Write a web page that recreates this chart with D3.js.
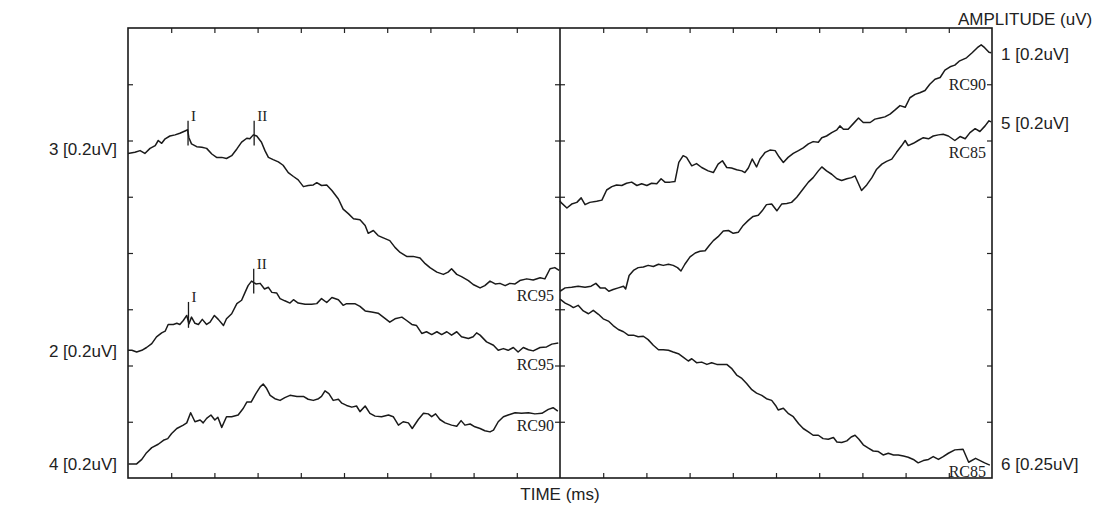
<!DOCTYPE html>
<html>
<head>
<meta charset="utf-8">
<script src="https://cdn.jsdelivr.net/npm/d3@7"></script>
<style>
  body { margin: 0; background: #fff; }
  svg { display: block; }
  .lab { font-family: "Liberation Sans", Arial, sans-serif; font-size: 17px; fill: #222; }
  .ser { font-family: "Liberation Serif", "Times New Roman", serif; font-size: 16px; fill: #222; }
</style>
</head>
<body>
<script>
// traces: [time (tick units, 0-10 per panel), amplitude (grid units, 0-8)]
const trace3 = [[0,5.77],[0.16,5.79],[0.28,5.82],[0.39,5.77],[0.51,5.86],[0.63,5.91],[0.70,6.00],[0.78,5.95],[0.86,6.03],[0.97,6.08],[1.09,6.10],[1.20,6.13],[1.32,6.17],[1.38,6.19],[1.41,6.05],[1.47,5.94],[1.59,5.89],[1.71,5.88],[1.82,5.86],[1.94,5.76],[2.05,5.70],[2.17,5.70],[2.28,5.68],[2.40,5.73],[2.52,5.85],[2.63,5.97],[2.75,6.04],[2.82,6.03],[2.90,6.10],[2.98,6.08],[3.09,5.97],[3.17,5.82],[3.25,5.70],[3.36,5.66],[3.48,5.62],[3.59,5.56],[3.71,5.43],[3.83,5.36],[3.94,5.30],[4.06,5.18],[4.17,5.20],[4.29,5.21],[4.37,5.25],[4.48,5.20],[4.60,5.21],[4.72,5.11],[4.87,4.96],[4.98,4.78],[5.10,4.70],[5.22,4.61],[5.37,4.59],[5.49,4.49],[5.56,4.35],[5.68,4.40],[5.79,4.31],[5.91,4.27],[6.06,4.22],[6.18,4.10],[6.30,4.01],[6.45,3.94],[6.60,3.94],[6.76,3.91],[6.88,3.81],[6.99,3.74],[7.15,3.66],[7.30,3.62],[7.41,3.66],[7.49,3.72],[7.61,3.62],[7.72,3.58],[7.88,3.51],[7.99,3.44],[8.15,3.38],[8.26,3.42],[8.38,3.50],[8.50,3.45],[8.61,3.46],[8.73,3.42],[8.84,3.46],[8.96,3.45],[9.07,3.51],[9.23,3.54],[9.38,3.52],[9.54,3.56],[9.65,3.54],[9.77,3.72],[9.88,3.74],[9.98,3.69]];
const trace2 = [[0,2.27],[0.09,2.27],[0.20,2.24],[0.32,2.27],[0.43,2.32],[0.55,2.39],[0.66,2.51],[0.78,2.58],[0.86,2.61],[0.93,2.73],[1.05,2.73],[1.13,2.75],[1.20,2.73],[1.28,2.80],[1.36,2.89],[1.41,2.74],[1.47,2.86],[1.55,2.75],[1.63,2.73],[1.72,2.82],[1.82,2.73],[1.90,2.77],[2.00,2.89],[2.09,2.82],[2.21,2.71],[2.28,2.83],[2.40,2.92],[2.52,3.10],[2.63,3.16],[2.71,3.30],[2.78,3.42],[2.86,3.50],[2.96,3.45],[3.06,3.46],[3.16,3.36],[3.25,3.39],[3.33,3.30],[3.44,3.29],[3.52,3.19],[3.63,3.15],[3.75,3.11],[3.83,3.17],[3.94,3.11],[4.10,3.09],[4.25,3.09],[4.37,3.10],[4.48,3.19],[4.60,3.12],[4.72,3.21],[4.87,3.17],[4.98,3.07],[5.06,3.10],[5.25,3.10],[5.37,3.05],[5.49,2.97],[5.64,2.95],[5.79,2.93],[5.91,2.86],[6.06,2.77],[6.18,2.83],[6.34,2.86],[6.45,2.80],[6.57,2.73],[6.68,2.71],[6.80,2.57],[6.91,2.60],[7.03,2.55],[7.15,2.60],[7.26,2.55],[7.38,2.60],[7.49,2.54],[7.61,2.60],[7.72,2.51],[7.88,2.48],[7.99,2.51],[8.07,2.58],[8.15,2.54],[8.30,2.42],[8.46,2.36],[8.57,2.27],[8.69,2.30],[8.80,2.27],[8.92,2.32],[9.03,2.24],[9.15,2.32],[9.27,2.28],[9.38,2.26],[9.54,2.32],[9.69,2.33],[9.81,2.38],[9.96,2.40]];
const trace4 = [[0.01,0.25],[0.20,0.25],[0.32,0.33],[0.43,0.45],[0.55,0.54],[0.70,0.60],[0.82,0.67],[0.92,0.70],[1.01,0.79],[1.13,0.88],[1.28,0.94],[1.36,0.98],[1.45,1.16],[1.55,1.00],[1.67,1.03],[1.74,0.98],[1.82,1.06],[1.92,1.12],[2.01,1.03],[2.08,1.08],[2.17,0.90],[2.28,1.09],[2.40,1.09],[2.55,1.12],[2.67,1.24],[2.75,1.35],[2.85,1.35],[2.96,1.50],[3.06,1.62],[3.13,1.67],[3.21,1.59],[3.29,1.47],[3.40,1.41],[3.52,1.38],[3.63,1.43],[3.75,1.47],[3.91,1.45],[4.06,1.45],[4.17,1.40],[4.29,1.38],[4.41,1.41],[4.48,1.45],[4.56,1.55],[4.65,1.50],[4.75,1.38],[4.87,1.40],[4.95,1.33],[5.06,1.29],[5.18,1.26],[5.29,1.28],[5.37,1.18],[5.49,1.28],[5.60,1.15],[5.72,1.10],[5.87,1.09],[6.03,1.12],[6.14,1.09],[6.26,0.94],[6.37,1.00],[6.49,0.98],[6.58,0.88],[6.72,1.04],[6.84,1.15],[6.95,1.14],[7.03,1.09],[7.12,1.14],[7.22,1.04],[7.34,0.98],[7.49,0.94],[7.61,0.92],[7.71,1.02],[7.80,0.94],[7.92,0.96],[8.03,0.91],[8.15,0.88],[8.26,0.84],[8.38,0.82],[8.46,0.85],[8.57,1.00],[8.69,1.09],[8.80,1.12],[8.96,1.16],[9.11,1.15],[9.27,1.16],[9.42,1.14],[9.58,1.15],[9.73,1.22],[9.84,1.25],[9.95,1.19]];
const trace1 = [[0,4.93],[0.02,4.90],[0.16,4.80],[0.27,4.87],[0.39,4.90],[0.49,4.98],[0.58,4.86],[0.69,4.90],[0.85,4.92],[0.97,4.94],[1.08,5.12],[1.20,5.18],[1.31,5.21],[1.43,5.20],[1.54,5.24],[1.66,5.26],[1.78,5.20],[1.89,5.23],[2.01,5.20],[2.12,5.24],[2.24,5.23],[2.34,5.32],[2.43,5.26],[2.55,5.26],[2.66,5.27],[2.75,5.61],[2.85,5.73],[2.93,5.70],[3.05,5.55],[3.16,5.59],[3.28,5.52],[3.43,5.46],[3.55,5.43],[3.66,5.58],[3.76,5.64],[3.86,5.52],[3.97,5.51],[4.09,5.48],[4.21,5.46],[4.28,5.43],[4.36,5.51],[4.45,5.67],[4.55,5.53],[4.63,5.67],[4.75,5.79],[4.86,5.83],[4.98,5.82],[5.07,5.71],[5.17,5.61],[5.28,5.70],[5.40,5.77],[5.52,5.82],[5.63,5.87],[5.75,5.94],[5.86,5.98],[5.98,5.97],[6.06,6.05],[6.17,6.08],[6.29,6.14],[6.41,6.19],[6.48,6.26],[6.56,6.20],[6.67,6.20],[6.79,6.30],[6.91,6.40],[7.02,6.32],[7.18,6.32],[7.29,6.38],[7.41,6.40],[7.52,6.42],[7.64,6.47],[7.75,6.54],[7.87,6.62],[7.99,6.59],[8.10,6.76],[8.22,6.82],[8.33,6.85],[8.45,6.89],[8.56,7.00],[8.68,7.09],[8.80,7.12],[8.91,7.25],[9.03,7.31],[9.14,7.34],[9.24,7.41],[9.41,7.47],[9.54,7.56],[9.66,7.65],[9.75,7.70],[9.83,7.65],[9.93,7.57],[9.98,7.56]];
const trace5 = [[0,3.32],[0.12,3.38],[0.27,3.39],[0.42,3.41],[0.58,3.39],[0.72,3.41],[0.83,3.46],[0.93,3.38],[1.04,3.38],[1.13,3.32],[1.23,3.35],[1.35,3.38],[1.47,3.41],[1.52,3.36],[1.60,3.60],[1.70,3.69],[1.81,3.74],[1.93,3.75],[2.04,3.78],[2.16,3.76],[2.28,3.80],[2.39,3.78],[2.51,3.80],[2.62,3.78],[2.72,3.74],[2.80,3.68],[2.89,3.80],[3.01,3.93],[3.13,4.00],[3.24,4.03],[3.36,4.04],[3.45,4.13],[3.55,4.22],[3.66,4.29],[3.78,4.39],[3.90,4.40],[4.01,4.35],[4.13,4.37],[4.24,4.49],[4.36,4.58],[4.47,4.65],[4.59,4.67],[4.68,4.75],[4.78,4.86],[4.90,4.87],[5.02,4.75],[5.13,4.87],[5.25,4.88],[5.36,4.90],[5.48,4.99],[5.60,5.11],[5.75,5.26],[5.86,5.34],[5.98,5.46],[6.06,5.53],[6.17,5.46],[6.29,5.40],[6.41,5.32],[6.52,5.29],[6.64,5.32],[6.75,5.34],[6.83,5.37],[6.91,5.23],[6.98,5.11],[7.10,5.21],[7.22,5.34],[7.33,5.49],[7.45,5.58],[7.56,5.63],[7.68,5.67],[7.79,5.79],[7.91,5.91],[7.99,6.00],[8.06,5.91],[8.18,5.95],[8.29,6.00],[8.41,6.05],[8.53,6.03],[8.64,6.08],[8.76,6.10],[8.87,6.11],[8.99,6.08],[9.14,6.00],[9.26,6.07],[9.38,6.03],[9.49,6.14],[9.61,6.21],[9.72,6.16],[9.84,6.26],[9.93,6.35],[9.98,6.33]];
const trace6 = [[0,3.18],[0.12,3.11],[0.23,3.07],[0.31,3.03],[0.42,3.07],[0.54,2.97],[0.66,2.92],[0.77,2.98],[0.89,2.91],[1.00,2.83],[1.12,2.79],[1.23,2.71],[1.35,2.64],[1.47,2.60],[1.58,2.54],[1.70,2.54],[1.81,2.51],[1.93,2.52],[2.04,2.46],[2.16,2.36],[2.28,2.28],[2.39,2.28],[2.51,2.27],[2.62,2.24],[2.74,2.21],[2.85,2.15],[2.97,2.08],[3.05,2.12],[3.16,2.05],[3.28,2.06],[3.40,2.02],[3.51,2.05],[3.63,2.02],[3.74,2.02],[3.86,2.02],[3.97,1.95],[4.09,1.83],[4.21,1.77],[4.32,1.68],[4.44,1.57],[4.55,1.51],[4.67,1.47],[4.78,1.41],[4.90,1.38],[4.99,1.29],[5.05,1.21],[5.17,1.24],[5.28,1.15],[5.40,1.09],[5.52,0.97],[5.63,0.88],[5.75,0.82],[5.86,0.76],[5.98,0.76],[6.09,0.70],[6.21,0.69],[6.33,0.72],[6.41,0.64],[6.52,0.63],[6.64,0.66],[6.74,0.73],[6.83,0.76],[6.92,0.69],[7.02,0.59],[7.14,0.53],[7.25,0.48],[7.37,0.47],[7.48,0.41],[7.60,0.44],[7.72,0.41],[7.83,0.41],[7.95,0.39],[8.06,0.37],[8.18,0.33],[8.29,0.27],[8.41,0.31],[8.53,0.33],[8.64,0.38],[8.76,0.33],[8.87,0.38],[8.99,0.44],[9.14,0.50],[9.33,0.51],[9.46,0.28],[9.62,0.35],[9.83,0.27],[9.95,0.23]];

const channelNames = ["3 [0.2uV]", "2 [0.2uV]", "4 [0.2uV]", "1 [0.2uV]", "5 [0.2uV]", "6 [0.25uV]"];
const seriesNames = ["RC95", "RC95", "RC90", "RC90", "RC85", "RC85"];
// wave markers: trace index, label, time, top and bottom of the mark (amplitude units)
const waveMarks = [
  [0, "I", 1.39, 6.35, 5.91], [0, "II", 2.92, 6.35, 5.91],
  [1, "I", 1.40, 3.13, 2.67], [1, "II", 2.91, 3.72, 3.28]
];
const timeTicks = [1, 2, 3, 4, 5, 6, 7, 8, 9];
const ampTicks = [1, 2, 3, 4, 5, 6, 7];

const W = 1117, H = 507;
const box = { left: 128, mid: 560, right: 992, top: 28, bottom: 478 };

const svg = d3.select("body").append("svg").attr("width", W).attr("height", H);

const xL = d3.scaleLinear().domain([0, 10]).range([box.left, box.mid]);
const xR = d3.scaleLinear().domain([0, 10]).range([box.mid, box.right]);
const y = d3.scaleLinear().domain([0, 8]).range([box.bottom, box.top]);

// ticks (no labels)
function ticks(axis, tx, ty) {
  svg.append("g")
    .attr("transform", "translate(" + tx + "," + ty + ")")
    .call(axis.tickFormat("").tickSizeOuter(0))
    .call(g => g.select(".domain").remove())
    .call(g => g.selectAll("line").attr("stroke", "#222").attr("stroke-width", 1.2));
}
[xL, xR].forEach(x => {
  ticks(d3.axisTop(x).tickValues(timeTicks).tickSize(-5), 0, box.top);
  ticks(d3.axisBottom(x).tickValues(timeTicks).tickSize(-5), 0, box.bottom);
});
ticks(d3.axisLeft(y).tickValues(ampTicks).tickSize(-5), box.left, 0);
ticks(d3.axisRight(y).tickValues(ampTicks).tickSize(-5), box.right, 0);
ticks(d3.axisLeft(y).tickValues(ampTicks).tickSize(5), box.mid, 0);
ticks(d3.axisRight(y).tickValues(ampTicks).tickSize(5), box.mid, 0);

// frame and divider
svg.append("rect")
  .attr("x", box.left).attr("y", box.top)
  .attr("width", box.right - box.left).attr("height", box.bottom - box.top)
  .attr("fill", "none").attr("stroke", "#1a1a1a").attr("stroke-width", 1.6);
svg.append("line")
  .attr("x1", box.mid).attr("x2", box.mid).attr("y1", box.top).attr("y2", box.bottom)
  .attr("stroke", "#1a1a1a").attr("stroke-width", 1.6);

// traces
const traces = [trace3, trace2, trace4, trace1, trace5, trace6];
const xOf = i => (i < 3 ? xL : xR);
traces.forEach((tr, i) => {
  const x = xOf(i);
  svg.append("path")
    .datum(tr)
    .attr("fill", "none")
    .attr("stroke", "#1a1a1a")
    .attr("stroke-width", 1.5)
    .attr("stroke-linejoin", "round")
    .attr("d", d3.line().x(d => x(d[0])).y(d => y(d[1])));
});

// wave I / II markers
waveMarks.forEach(m => {
  const x = xOf(m[0]);
  svg.append("line")
    .attr("x1", x(m[2])).attr("x2", x(m[2]))
    .attr("y1", y(m[3])).attr("y2", y(m[4]))
    .attr("stroke", "#1a1a1a").attr("stroke-width", 1.3);
  svg.append("text").attr("class", "ser")
    .attr("x", x(m[2]) + 3).attr("y", y(m[3]))
    .style("font-size", "15px")
    .text(m[1]);
});

// series names at the right end of each trace
const seriesBase = [301, 370, 431, 90, 158, 477];
seriesNames.forEach((s, i) => {
  svg.append("text").attr("class", "ser")
    .attr("x", (i < 3 ? box.mid : box.right) - 6)
    .attr("y", seriesBase[i])
    .attr("text-anchor", "end")
    .text(s);
});

// channel labels
const chanBase = [155, 357, 470, 60, 129, 470];
channelNames.forEach((c, i) => {
  svg.append("text").attr("class", "lab")
    .attr("x", i < 3 ? 117 : 1001)
    .attr("y", chanBase[i])
    .attr("text-anchor", i < 3 ? "end" : "start")
    .text(c);
});

svg.append("text").attr("class", "lab")
  .attr("x", 958).attr("y", 25)
  .text("AMPLITUDE (uV)");
svg.append("text").attr("class", "lab")
  .attr("x", box.mid).attr("y", 500)
  .attr("text-anchor", "middle")
  .text("TIME (ms)");
</script>
</body>
</html>
